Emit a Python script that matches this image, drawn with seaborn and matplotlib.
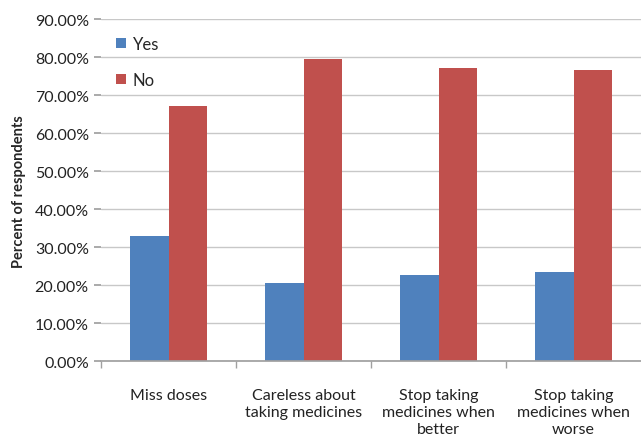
import matplotlib
matplotlib.use("Agg")
import matplotlib.pyplot as plt
import seaborn as sns
import pandas as pd
from matplotlib.ticker import FuncFormatter, FixedLocator

categories = ["Miss doses", "Careless about\ntaking medicines",
              "Stop taking\nmedicines when\nbetter", "Stop taking\nmedicines when\nworse"]
yes_vals = [33.0, 20.5, 22.8, 23.4]
no_vals = [67.2, 79.4, 77.1, 76.6]
series = ["Yes", "No"]
colors = ["#4F81BD", "#C0504D"]

df = pd.DataFrame({
    "category": categories * 2,
    "value": yes_vals + no_vals,
    "answer": [series[0]] * 4 + [series[1]] * 4,
})

sns.set_theme(style="white")
plt.rcParams["font.family"] = ["Lato", "DejaVu Sans"]

fig = plt.figure(figsize=(6.41, 4.39), dpi=100)
ax = fig.add_axes([0.158, 0.175, 0.842, 0.779])

sns.barplot(data=df, x="category", y="value", hue="answer", palette=colors,
            width=0.57, saturation=1, linewidth=0, ax=ax, legend=True)

ax.set_ylim(0, 90)
ax.set_xlim(-0.5, 3.5)
ax.set_yticks(range(0, 91, 10))
ax.yaxis.set_major_formatter(FuncFormatter(lambda v, p: f"{v:.2f}%"))
ax.grid(axis="y", color="#C8C8C8", linewidth=1)
ax.set_axisbelow(True)
for s in ["top", "right", "left"]:
    ax.spines[s].set_visible(False)
ax.spines["bottom"].set_color("#A0A0A0")
ax.tick_params(axis="y", left=True, length=5, color="#A0A0A0", labelsize=11.5,
               labelcolor="#222222", pad=4)
ax.tick_params(axis="x", which="major", bottom=False, labelsize=11.5,
               labelcolor="#222222", pad=13)
for lbl in ax.get_xticklabels():
    lbl.set_linespacing(1.3)
ax.xaxis.set_minor_locator(FixedLocator([-0.5, 0.5, 1.5, 2.5]))
ax.tick_params(axis="x", which="minor", bottom=True, length=5, color="#A0A0A0")
ax.set_xlabel("")
ax.set_ylabel("Percent of respondents", fontsize=10.5, fontweight="bold", labelpad=6)

leg = ax.legend(loc="upper left", bbox_to_anchor=(0.0, 0.995), frameon=False,
                fontsize=12, handlelength=0.6, handleheight=0.6,
                labelspacing=1.2, handletextpad=0.4)

fig.savefig("out.png", dpi=100)
